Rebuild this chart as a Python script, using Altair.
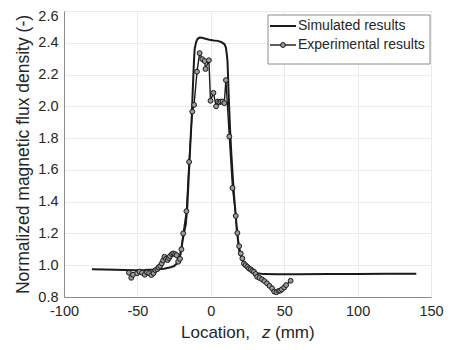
import altair as alt
import pandas as pd

# Simulated curve
sim_z = [-81, -65, -52, -45, -38, -32, -28, -25, -23, -22, -21, -20, -19, -18, -17,
         -16, -15, -14, -13, -12.3, -11.5, -11, -10, -9, -7.6, -6, -4.2, -1, 2, 4.7,
         7, 9.2, 10.3, 11, 11.4, 12.1, 13, 14, 15, 16, 17, 17.7, 18.5, 19.3, 21,
         22.6, 25, 27.1, 31.6, 36, 45, 60, 80, 100, 120, 140]
sim_v = [0.975, 0.972, 0.969, 0.970, 0.973, 0.978, 0.985, 0.995, 1.012, 1.03, 1.06,
         1.11, 1.165, 1.215, 1.26, 1.37, 1.56, 1.75, 1.93, 2.10, 2.28, 2.36, 2.405,
         2.425, 2.433, 2.431, 2.427, 2.419, 2.415, 2.412, 2.405, 2.392, 2.37, 2.32,
         2.28, 2.09, 1.88, 1.70, 1.55, 1.42, 1.315, 1.22, 1.16, 1.095, 1.04, 1.011,
         0.985, 0.969, 0.949, 0.944, 0.943, 0.943, 0.944, 0.945, 0.946, 0.947]

# Experimental measurements
exp_z = [-55.8, -54.2, -53.0, -50.2, -48.5, -46.8, -45.0, -43.5, -42.0, -40.5, -39.0,
         -37.8, -36.5, -35.6, -34.5, -33.4, -32.5, -31.6, -30.5, -29.4, -28.5, -27.8,
         -26.5, -25.5, -24.3, -23.3, -22.2, -21.0, -20.0, -18.8, -16.6, -14.8, -12.6,
         -11.4, -9.4, -7.6, -5.8, -4.2, -3.6, -1.3, -0.2, 1.8, 3.6, 4.7, 5.8, 6.9,
         8.1, 9.2, 10.3, 12.6, 14.8, 17.0, 18.1, 19.3, 20.4, 21.5, 22.6, 23.7, 24.9,
         26.0, 27.1, 28.2, 29.4, 30.5, 31.6, 33.2, 34.9, 36.5, 38.3, 40.0, 41.7, 43.2,
         44.7, 46.2, 47.3, 48.4, 50.0, 51.3, 54.4]
exp_v = [0.953, 0.921, 0.940, 0.949, 0.960, 0.953, 0.940, 0.955, 0.950, 0.938, 0.950,
         0.969, 0.975, 0.986, 0.995, 1.011, 1.030, 1.053, 1.040, 1.032, 1.045, 1.057,
         1.070, 1.074, 1.070, 1.063, 1.022, 1.040, 1.100, 1.200, 1.340, 1.650, 1.967,
         2.009, 2.218, 2.335, 2.297, 2.285, 2.235, 2.290, 2.035, 2.085, 2.000, 2.030,
         2.025, 2.030, 2.030, 2.020, 2.165, 1.810, 1.486, 1.310, 1.203, 1.120, 1.074,
         1.043, 1.010, 1.000, 0.990, 0.980, 0.974, 0.965, 0.959, 0.945, 0.927, 0.920,
         0.911, 0.900, 0.886, 0.870, 0.855, 0.834, 0.830, 0.838, 0.840, 0.848, 0.860,
         0.875, 0.902]

x_ticks = [-100, -50, 0, 50, 100, 150]
y_ticks = [0.8, 1.0, 1.2, 1.4, 1.6, 1.8, 2.0, 2.2, 2.4, 2.6]
legend_labels = ["Simulated results", "Experimental results"]
y_title = "Normalized magnetic flux density (-)"
x_title_parts = ["Location,", "z", "(mm)"]

FONT = "Liberation Sans"
TXT = "#262626"
DARK = "#1a1a1a"

sim = pd.DataFrame({"z": sim_z, "v": sim_v})
exp = pd.DataFrame({"z": exp_z, "v": exp_v})
one = pd.DataFrame({"a": [0]})

xs = alt.Scale(domain=[-100, 150], nice=False)
ys = alt.Scale(domain=[0.8, 2.6], nice=False)
xax = alt.Axis(values=x_ticks, tickCount=len(x_ticks) + 2, title=None,
               labelPadding=7, labelFlush=False, labelOverlap=False,
               labelExpr="'' + datum.value")
yax = alt.Axis(values=y_ticks, tickCount=len(y_ticks) + 2, format=".1f",
               title=y_title, labelPadding=6, titlePadding=5,
               labelFlush=False, labelOverlap=False,
               labelOffset=alt.condition("datum.value > 2.55", alt.value(5), alt.value(0)))

sim_line = alt.Chart(sim).mark_line(color=DARK, strokeWidth=2).encode(
    x=alt.X("z:Q", scale=xs, axis=xax),
    y=alt.Y("v:Q", scale=ys, axis=yax),
)
exp_line = alt.Chart(exp).mark_line(color=DARK, strokeWidth=1.4).encode(
    x=alt.X("z:Q", scale=xs), y=alt.Y("v:Q", scale=ys)
)
exp_pts = alt.Chart(exp).mark_point(
    shape="circle", filled=False, fill="#9a9a9a", fillOpacity=1,
    stroke=DARK, strokeWidth=1, size=24, opacity=1
).encode(x=alt.X("z:Q", scale=xs), y=alt.Y("v:Q", scale=ys))

# legend
box = alt.Chart(one).mark_rect(fill="white", stroke="#8c8c8c", strokeWidth=1).encode(
    x=alt.value(204), x2=alt.value(366), y=alt.value(4), y2=alt.value(53)
)
leg1 = alt.Chart(one).mark_rule(color=DARK, strokeWidth=2).encode(
    x=alt.value(206), x2=alt.value(232), y=alt.value(15)
)
leg2 = alt.Chart(one).mark_rule(color=DARK, strokeWidth=1.4).encode(
    x=alt.value(206), x2=alt.value(232), y=alt.value(34)
)
legp = alt.Chart(one).mark_point(
    shape="circle", filled=False, fill="#9a9a9a", fillOpacity=1,
    stroke=DARK, strokeWidth=1, size=24, opacity=1
).encode(x=alt.value(219), y=alt.value(34))
legt1 = alt.Chart(one).mark_text(align="left", baseline="middle", font=FONT,
                                 fontSize=14, color=TXT).encode(
    x=alt.value(234), y=alt.value(15), text=alt.value(legend_labels[0])
)
legt2 = alt.Chart(one).mark_text(align="left", baseline="middle", font=FONT,
                                 fontSize=14, color=TXT).encode(
    x=alt.value(234), y=alt.value(34), text=alt.value(legend_labels[1])
)

# x title with italic z
xt1 = alt.Chart(one).mark_text(align="left", baseline="alphabetic", font=FONT,
                               fontSize=17, color=TXT).encode(
    x=alt.value(117), y=alt.value(327), text=alt.value(x_title_parts[0])
)
xt2 = alt.Chart(one).mark_text(align="left", baseline="alphabetic", font=FONT,
                               fontSize=17, fontStyle="italic", color=TXT).encode(
    x=alt.value(198), y=alt.value(327), text=alt.value(x_title_parts[1])
)
xt3 = alt.Chart(one).mark_text(align="left", baseline="alphabetic", font=FONT,
                               fontSize=17, color=TXT).encode(
    x=alt.value(211), y=alt.value(327), text=alt.value(x_title_parts[2])
)

chart = alt.layer(
    sim_line, exp_line, exp_pts, box, leg1, leg2, legp, legt1, legt2, xt1, xt2, xt3
).properties(
    width=367, height=286,
    autosize=alt.AutoSizeParams(type="none"),
    padding={"left": 56, "top": 3, "right": 13, "bottom": 45},
).configure_axis(
    labelFont=FONT, labelFontSize=14.5, labelColor=TXT,
    titleFont=FONT, titleFontSize=17.5, titleColor=TXT, titleFontWeight="normal",
    domainColor="#8c8c8c", gridColor="#ebebeb", grid=True, ticks=False,
).configure_view(stroke="#8c8c8c")

chart.save("out.html", embed_options={"renderer": "svg", "actions": False})
